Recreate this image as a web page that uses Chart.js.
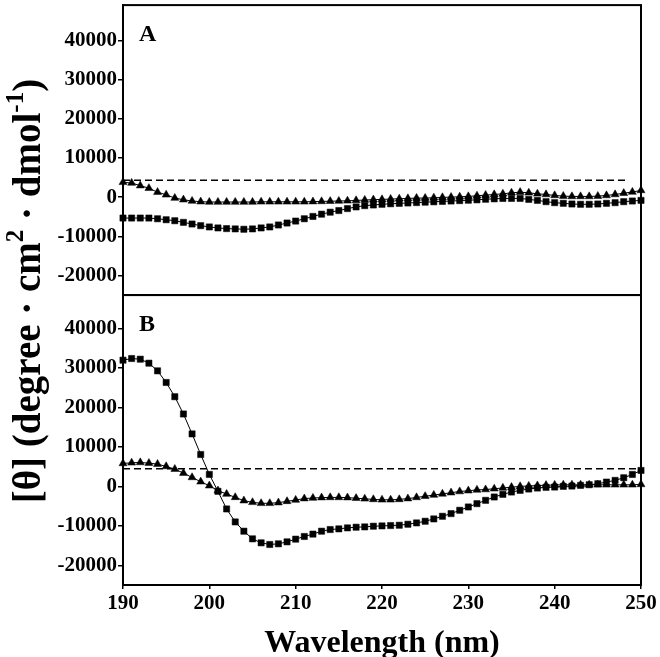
<!DOCTYPE html>
<html>
<head>
<meta charset="utf-8">
<title>CD spectra</title>
<script src="https://cdn.jsdelivr.net/npm/chart.js@4.4.1/dist/chart.umd.min.js"></script>
<style>
  html, body { margin: 0; padding: 0; background: #fff; }
  #wrap { width: 660px; height: 657px; position: relative; }
</style>
</head>
<body>
<div id="wrap"><canvas id="cd-chart"></canvas></div>
<script>
(function () {
  'use strict';

  // --- Data ---
  var wavelengths = [
    190, 191, 192, 193, 194, 195, 196, 197, 198, 199,
    200, 201, 202, 203, 204, 205, 206, 207, 208, 209,
    210, 211, 212, 213, 214, 215, 216, 217, 218, 219,
    220, 221, 222, 223, 224, 225, 226, 227, 228, 229,
    230, 231, 232, 233, 234, 235, 236, 237, 238, 239,
    240, 241, 242, 243, 244, 245, 246, 247, 248, 249, 250
  ];

  // Panel A
  var squaresA = [
    -5350, -5350, -5350, -5350, -5530, -5780, -6030, -6450, -6870, -7290,
    -7620, -7870, -8040, -8120, -8210, -8120, -7870, -7620, -7120, -6620,
    -6120, -5530, -4940, -4360, -3850, -3430, -2930, -2510, -2180, -2010,
    -1840, -1700, -1600, -1500, -1400, -1300, -1200, -1100, -1000, -900,
    -800, -700, -550, -450, -350, -340, -340, -590, -840, -1170,
    -1420, -1590, -1760, -1840, -1840, -1760, -1590, -1420, -1170, -1000, -840
  ];
  var trianglesA = [
    3770, 3600, 2930, 2260, 1260, 590, -250, -670, -1000, -1170,
    -1260, -1260, -1260, -1260, -1260, -1260, -1200, -1200, -1200, -1200,
    -1200, -1200, -1150, -1100, -1050, -1000, -950, -850, -750, -650,
    -590, -500, -420, -340, -250, -250, -170, -80, 0, 80,
    170, 340, 500, 670, 840, 1090, 1260, 1090, 840, 670,
    420, 250, 170, 170, 170, 250, 420, 670, 1000, 1300, 1700
  ];
  var refLineXA = [190, 248.4];
  var refLineYA = [4300, 4300];

  // Panel B
  var squaresB = [
    31990, 32410, 32240, 31230, 29290, 26340, 22730, 18350, 13300, 8080,
    3030, -1260, -5720, -9010, -11360, -13300, -14310, -14730, -14560, -14060,
    -13380, -12700, -12100, -11360, -10940, -10770, -10520, -10350, -10270, -10100,
    -10020, -9930, -9850, -9600, -9260, -8840, -8250, -7580, -6900, -6060,
    -5220, -4380, -3540, -2690, -2020, -1430, -1010, -670, -420, -250,
    -170, 0, 80, 250, 420, 670, 1090, 1520, 2190, 3030, 4040
  ];
  var trianglesB = [
    5810, 5980, 6060, 5890, 5640, 5050, 4380, 3370, 2270, 1180,
    170, -1090, -1940, -2780, -3620, -4040, -4290, -4290, -4120, -3790,
    -3450, -3100, -2950, -2850, -2800, -2800, -2850, -3000, -3150, -3300,
    -3400, -3400, -3300, -3100, -2800, -2500, -2200, -1900, -1600, -1300,
    -1100, -900, -800, -600, -400, -200, 0, 100, 200, 300,
    350, 400, 400, 400, 400, 400, 400, 400, 400, 400, 500
  ];
  var refLineXB = [190, 250];
  var refLineYB = [4450, 4450];

  // Axis ticks
  var xTickValues = [190, 200, 210, 220, 230, 240, 250];
  var yTickValues = [-20000, -10000, 0, 10000, 20000, 30000, 40000];
  var panelLabels = ['A', 'B'];

  // --- Helpers ---
  var SERIF = '"Liberation Serif", "Times New Roman", serif';
  var INK = '#000';

  function toPoints(xs, ys) {
    return xs.map(function (x, i) { return { x: x, y: ys[i] }; });
  }

  function markerSet(ys, style, axis) {
    return {
      data: toPoints(wavelengths, ys),
      yAxisID: axis,
      showLine: true,
      borderColor: INK,
      borderWidth: 1,
      backgroundColor: INK,
      pointStyle: style,
      pointRadius: style === 'rect' ? 4.4 : 4.6,
      pointBorderWidth: 0.5,
      pointBackgroundColor: INK,
      pointBorderColor: INK,
      clip: false
    };
  }

  function dashSet(xs, ys, axis) {
    return {
      data: toPoints(xs, ys),
      yAxisID: axis,
      showLine: true,
      borderColor: INK,
      borderWidth: 1.5,
      borderDash: [7, 4],
      pointRadius: 0,
      fill: false
    };
  }

  function yScale(max, weight) {
    return {
      type: 'linear',
      position: 'left',
      stack: 'panels',
      stackWeight: 1,
      weight: weight,
      min: -25000,
      max: max,
      afterBuildTicks: function (scale) {
        scale.ticks = yTickValues.map(function (v) { return { value: v }; });
      },
      afterFit: function (scale) {
        scale.width = 123;
        // no extra room for edge labels: the frame starts right at the top
        scale.paddingTop = 0;
        scale.paddingBottom = 0;
      },
      ticks: {
        color: INK,
        padding: 1,
        autoSkip: false,
        font: { family: SERIF, size: 21, weight: 'bold' },
        callback: function (v) { return String(v); }
      },
      grid: { drawOnChartArea: false, drawTicks: true, tickLength: 5, color: INK, lineWidth: 1.5 },
      border: { display: true, color: INK, width: 2 }
    };
  }

  // Plugin: panel frames, panel letters and the rotated y title with superscripts
  var decorPlugin = {
    id: 'cdDecor',
    afterDraw: function (chart) {
      var ctx = chart.ctx;
      var area = chart.chartArea;
      var panels = [chart.scales.yA, chart.scales.yB];

      ctx.save();
      ctx.strokeStyle = INK;
      ctx.lineWidth = 2;
      panels.forEach(function (s) {
        ctx.strokeRect(area.left, s.top, area.right - area.left, s.bottom - s.top);
      });

      ctx.fillStyle = INK;
      ctx.font = 'bold 24px ' + SERIF;
      ctx.textAlign = 'left';
      ctx.textBaseline = 'alphabetic';
      panels.forEach(function (s, i) {
        ctx.fillText(panelLabels[i], area.left + 16, s.top + 36);
      });

      // y title
      var parts = [
        { t: '[\u03b8] (degree \u00b7 cm', sup: false },
        { t: '2', sup: true },
        { t: ' \u00b7 dmol', sup: false },
        { t: '-1', sup: true },
        { t: ')', sup: false }
      ];
      var mainFont = 'bold 39px ' + SERIF;
      var supFont = 'bold 25px ' + SERIF;
      var total = 0;
      parts.forEach(function (p) {
        ctx.font = p.sup ? supFont : mainFont;
        p.w = ctx.measureText(p.t).width;
        total += p.w;
      });
      var cy = (panels[0].top + panels[1].bottom) / 2 - 4;
      ctx.translate(40, cy);
      ctx.rotate(-Math.PI / 2);
      var x = -total / 2;
      parts.forEach(function (p) {
        ctx.font = p.sup ? supFont : mainFont;
        ctx.fillText(p.t, x, p.sup ? -17 : 0);
        x += p.w;
      });
      ctx.restore();
    }
  };

  var ctx = document.getElementById('cd-chart').getContext('2d');

  new Chart(ctx, {
    type: 'line',
    data: {
      datasets: [
        dashSet(refLineXA, refLineYA, 'yA'),
        markerSet(squaresA, 'rect', 'yA'),
        markerSet(trianglesA, 'triangle', 'yA'),
        dashSet(refLineXB, refLineYB, 'yB'),
        markerSet(squaresB, 'rect', 'yB'),
        markerSet(trianglesB, 'triangle', 'yB')
      ]
    },
    options: {
      responsive: true,
      maintainAspectRatio: false,
      animation: false,
      layout: { padding: { top: 3, right: 19, bottom: 0, left: 0 } },
      plugins: {
        legend: { display: false },
        tooltip: { enabled: false }
      },
      scales: {
        x: {
          type: 'linear',
          min: 190,
          max: 250,
          afterBuildTicks: function (scale) {
            scale.ticks = xTickValues.map(function (v) { return { value: v }; });
          },
          afterFit: function (scale) { scale.height = 72; },
          ticks: {
            color: INK,
            padding: 2,
            autoSkip: false,
            maxRotation: 0,
            font: { family: SERIF, size: 21, weight: 'bold' },
            callback: function (v) { return String(v); }
          },
          grid: { drawOnChartArea: false, drawTicks: true, tickLength: 4, color: INK, lineWidth: 1.5 },
          border: { display: true, color: INK, width: 2 },
          title: {
            display: true,
            text: 'Wavelength (nm)',
            color: INK,
            padding: { top: 0, bottom: 0 },
            font: { family: SERIF, size: 32, weight: 'bold', lineHeight: 0.8 }
          }
        },
        yA: yScale(49000, 2),
        yB: yScale(48500, 1)
      }
    },
    plugins: [decorPlugin]
  });
})();
</script>
</body>
</html>
